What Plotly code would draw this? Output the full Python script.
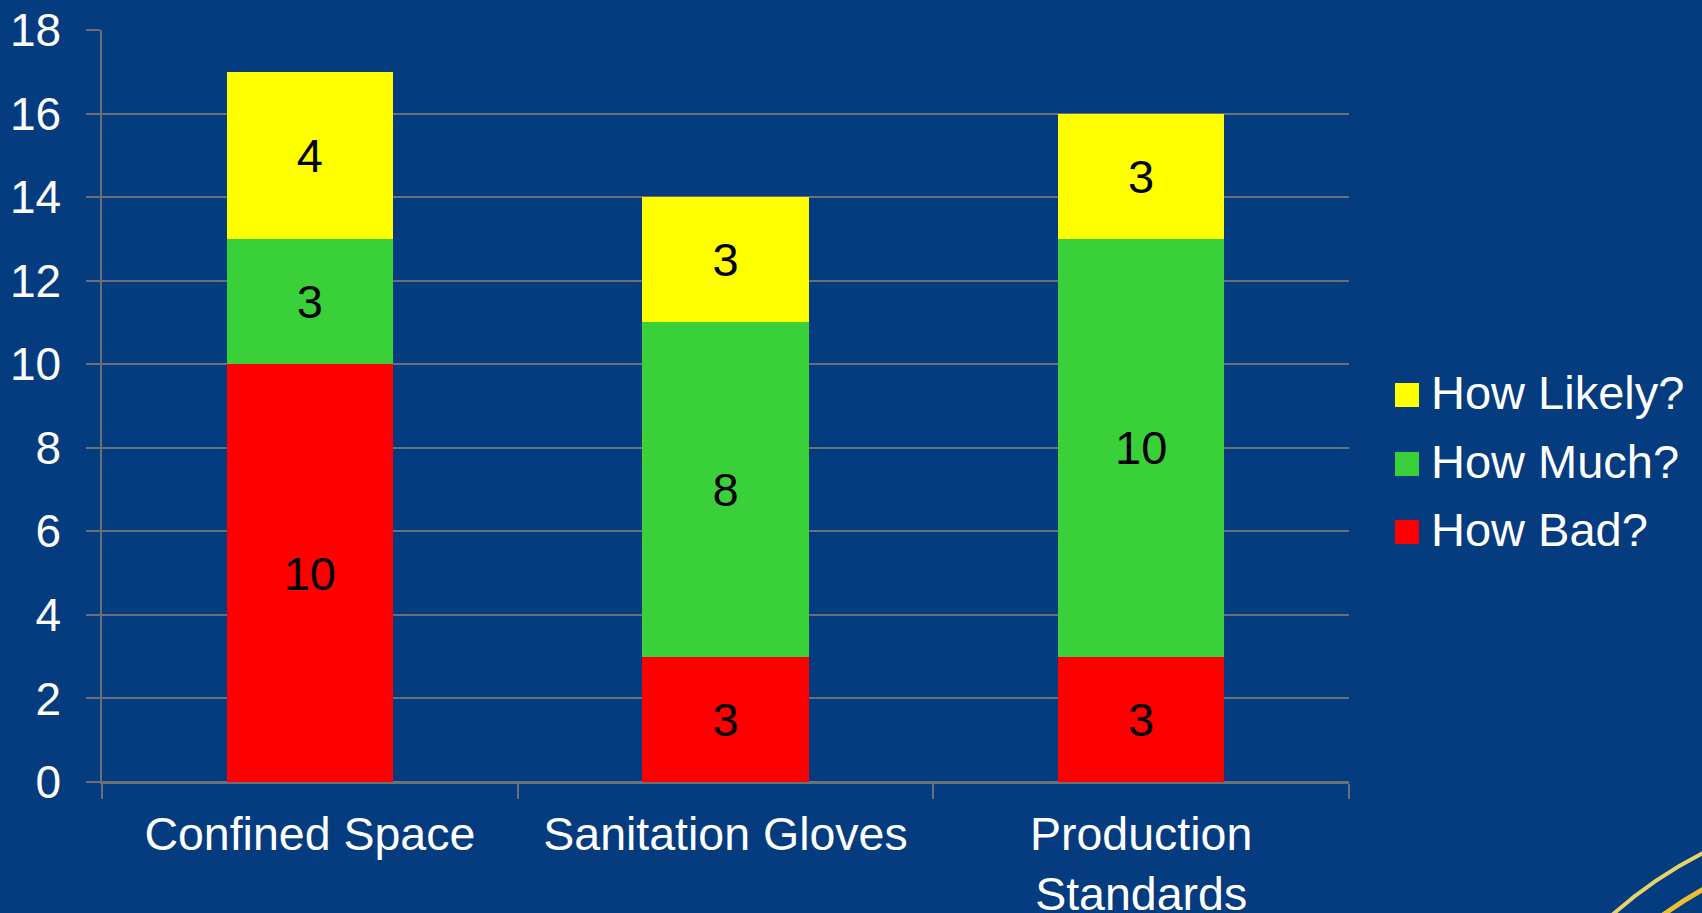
import plotly.graph_objects as go

# Hazard categories and the three stacked ratings
categories = ["Confined Space", "Sanitation Gloves", "Production<br>Standards"]
how_bad = [10, 3, 3]
how_much = [3, 8, 10]
how_likely = [4, 3, 3]

series_names = ["How Bad?", "How Much?", "How Likely?"]
series_colors = ["#FF0000", "#3AD03A", "#FFFF00"]
series_values = [how_bad, how_much, how_likely]

y_ticks = [0, 2, 4, 6, 8, 10, 12, 14, 16, 18]

W, H = 1702, 913
ML, MR, MT, MB = 102, 353, 30, 131
PW, PH = W - ML - MR, H - MT - MB

BG = "#043C7F"
GRID = "#6A6F78"
FONT = "Liberation Sans, Arial, sans-serif"


def px_to_paper(px, py):
    return (px - ML) / PW, (H - MB - py) / PH


fig = go.Figure()
for name, color, vals in zip(series_names, series_colors, series_values):
    fig.add_trace(go.Bar(
        x=categories,
        y=vals,
        name=name,
        marker=dict(color=color, line=dict(width=0)),
        width=0.4,
        text=[str(v) for v in vals],
        textposition="inside",
        insidetextanchor="middle",
        textangle=0,
        constraintext="none",
        textfont=dict(family=FONT, size=47, color="black"),
        showlegend=False,
        hoverinfo="x+y+name",
    ))

# Legend: yellow on top, red at the bottom
shapes = []
annotations = []
row_y = [395, 464, 532]
for i, idx in enumerate([2, 1, 0]):
    cy = row_y[i]
    x0, y0 = px_to_paper(1395, cy + 12)
    x1, y1 = px_to_paper(1419, cy - 12)
    shapes.append(dict(type="rect", xref="paper", yref="paper",
                       x0=x0, x1=x1, y0=y0, y1=y1,
                       fillcolor=series_colors[idx], line=dict(width=0)))
    tx, ty = px_to_paper(1429, cy - 3)
    annotations.append(dict(xref="paper", yref="paper", x=tx, y=ty,
                            xanchor="left", yanchor="middle", showarrow=False,
                            text=series_names[idx],
                            font=dict(family=FONT, size=47, color="white")))

# Decorative gold arcs in the lower right corner
for r, col, lw in [(432, "#E6D46A", 4), (400, "#F0BE2E", 5)]:
    cx, cy = 1899, 1238
    x0, y0 = px_to_paper(cx - r, cy + r)
    x1, y1 = px_to_paper(cx + r, cy - r)
    shapes.append(dict(type="circle", xref="paper", yref="paper",
                       x0=x0, x1=x1, y0=y0, y1=y1,
                       line=dict(color=col, width=lw), layer="above"))

fig.update_layout(
    width=W, height=H,
    barmode="stack",
    paper_bgcolor=BG,
    plot_bgcolor=BG,
    margin=dict(l=ML, r=MR, t=MT, b=MB, pad=0, autoexpand=False),
    font=dict(family=FONT, color="white"),
    showlegend=False,
    shapes=shapes,
    annotations=annotations,
    xaxis=dict(
        range=[-0.5, 2.5],
        automargin=False,
        showgrid=False,
        showline=True, linecolor=GRID, linewidth=1.5,
        ticks="outside", ticklen=15, tickcolor=GRID, tickwidth=1.5,
        tickson="boundaries",
        tickfont=dict(family=FONT, size=46.5, color="white"),
        ticklabelstandoff=10,
    ),
    yaxis=dict(
        range=[0, 18],
        automargin=False,
        tickvals=y_ticks,
        showgrid=True, gridcolor=GRID, gridwidth=1.5,
        zeroline=True, zerolinecolor=GRID, zerolinewidth=1.5,
        showline=True, linecolor=GRID, linewidth=1.5,
        ticks="outside", ticklen=14, tickcolor=GRID, tickwidth=1.5,
        tickfont=dict(family=FONT, size=46, color="white"),
        ticklabelstandoff=16,
    ),
)

fig.write_html("out.html")
